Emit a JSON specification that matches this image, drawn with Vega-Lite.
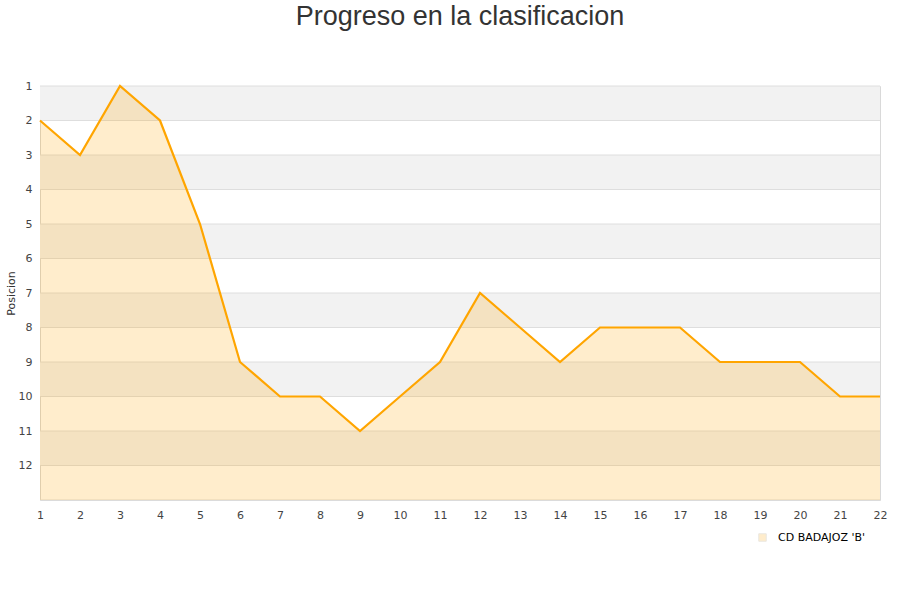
{
  "$schema": "https://vega.github.io/schema/vega-lite/v6.json",
  "width": 840,
  "height": 414,
  "autosize": {"type": "none"},
  "padding": {"left": 40, "top": 86, "right": 20, "bottom": 100},
  "background": "white",
  "title": {
    "text": "Progreso en la clasificacion",
    "font": "Liberation Sans",
    "fontSize": 27,
    "fontWeight": "normal",
    "color": "#333333",
    "anchor": "middle",
    "frame": "group",
    "offset": 49
  },
  "config": {
    "view": {"stroke": "#d9d9d9", "strokeWidth": 1},
    "axis": {
      "labelFont": "DejaVu Sans",
      "labelFontSize": 11,
      "labelColor": "#444444",
      "titleFont": "DejaVu Sans",
      "titleFontSize": 11,
      "titleFontWeight": "normal",
      "titleColor": "#333333",
      "ticks": false,
      "domain": false,
      "grid": false,
      "labelOverlap": false,
      "labelFlush": false
    },
    "axisX": {"labelPadding": 9},
    "axisY": {"labelPadding": 8, "titlePadding": 2},
    "legend": {"symbolStrokeColor": "#9a8a6a", "symbolStrokeWidth": 1, "symbolFillColor": "#ffedcc"}
  },
  "datasets": {
    "bands": [
      {"desde": 1, "hasta": 2},
      {"desde": 3, "hasta": 4},
      {"desde": 5, "hasta": 6},
      {"desde": 7, "hasta": 8},
      {"desde": 9, "hasta": 10},
      {"desde": 11, "hasta": 12}
    ],
    "lineas": [
      {"pos": 1}, {"pos": 2}, {"pos": 3}, {"pos": 4}, {"pos": 5}, {"pos": 6}, {"pos": 7},
      {"pos": 8}, {"pos": 9}, {"pos": 10}, {"pos": 11}, {"pos": 12}, {"pos": 13}
    ],
    "progreso": [
      {"jornada": 1, "posicion": 2, "equipo": "CD BADAJOZ 'B'"},
      {"jornada": 2, "posicion": 3, "equipo": "CD BADAJOZ 'B'"},
      {"jornada": 3, "posicion": 1, "equipo": "CD BADAJOZ 'B'"},
      {"jornada": 4, "posicion": 2, "equipo": "CD BADAJOZ 'B'"},
      {"jornada": 5, "posicion": 5, "equipo": "CD BADAJOZ 'B'"},
      {"jornada": 6, "posicion": 9, "equipo": "CD BADAJOZ 'B'"},
      {"jornada": 7, "posicion": 10, "equipo": "CD BADAJOZ 'B'"},
      {"jornada": 8, "posicion": 10, "equipo": "CD BADAJOZ 'B'"},
      {"jornada": 9, "posicion": 11, "equipo": "CD BADAJOZ 'B'"},
      {"jornada": 10, "posicion": 10, "equipo": "CD BADAJOZ 'B'"},
      {"jornada": 11, "posicion": 9, "equipo": "CD BADAJOZ 'B'"},
      {"jornada": 12, "posicion": 7, "equipo": "CD BADAJOZ 'B'"},
      {"jornada": 13, "posicion": 8, "equipo": "CD BADAJOZ 'B'"},
      {"jornada": 14, "posicion": 9, "equipo": "CD BADAJOZ 'B'"},
      {"jornada": 15, "posicion": 8, "equipo": "CD BADAJOZ 'B'"},
      {"jornada": 16, "posicion": 8, "equipo": "CD BADAJOZ 'B'"},
      {"jornada": 17, "posicion": 8, "equipo": "CD BADAJOZ 'B'"},
      {"jornada": 18, "posicion": 9, "equipo": "CD BADAJOZ 'B'"},
      {"jornada": 19, "posicion": 9, "equipo": "CD BADAJOZ 'B'"},
      {"jornada": 20, "posicion": 9, "equipo": "CD BADAJOZ 'B'"},
      {"jornada": 21, "posicion": 10, "equipo": "CD BADAJOZ 'B'"},
      {"jornada": 22, "posicion": 10, "equipo": "CD BADAJOZ 'B'"}
    ]
  },
  "layer": [
    {
      "data": {"name": "bands"},
      "mark": {"type": "rect", "color": "#f2f2f2"},
      "encoding": {
        "y": {
          "field": "desde",
          "type": "quantitative",
          "scale": {"domain": [1, 13], "reverse": true, "nice": false, "zero": false},
          "axis": {"title": "Posicion", "values": [1, 2, 3, 4, 5, 6, 7, 8, 9, 10, 11, 12]}
        },
        "y2": {"field": "hasta"}
      }
    },
    {
      "data": {"name": "lineas"},
      "mark": {"type": "rule", "color": "#dedede", "strokeWidth": 1},
      "encoding": {
        "y": {
          "field": "pos",
          "type": "quantitative",
          "axis": {"title": "Posicion", "values": [1, 2, 3, 4, 5, 6, 7, 8, 9, 10, 11, 12]}
        }
      }
    },
    {
      "data": {"name": "progreso"},
      "mark": {"type": "area", "opacity": 0.2, "interpolate": "linear"},
      "encoding": {
        "x": {
          "field": "jornada",
          "type": "quantitative",
          "scale": {"domain": [1, 22], "nice": false, "zero": false},
          "axis": {
            "title": null,
            "values": [1, 2, 3, 4, 5, 6, 7, 8, 9, 10, 11, 12, 13, 14, 15, 16, 17, 18, 19, 20, 21, 22],
            "format": "d"
          }
        },
        "y": {
          "field": "posicion",
          "type": "quantitative",
          "axis": {"title": "Posicion", "values": [1, 2, 3, 4, 5, 6, 7, 8, 9, 10, 11, 12]}
        },
        "y2": {"datum": 13},
        "color": {
          "field": "equipo",
          "type": "nominal",
          "scale": {"range": ["#ffa500"]},
          "legend": {
            "title": null,
            "orient": "none",
            "legendX": 717,
            "legendY": 446,
            "symbolType": "square",
            "symbolSize": 56,
            "labelFont": "DejaVu Sans",
            "labelFontSize": 11,
            "labelColor": "#000000",
            "labelOffset": 10,
            "encode": {
              "symbols": {
                "enter": {
                  "stroke": {"value": "#9a8a6a"},
                  "strokeWidth": {"value": 1}
                },
                "update": {
                  "fill": {"value": "#ffedcc"},
                  "stroke": {"value": "#9a8a6a"},
                  "strokeWidth": {"value": 1},
                  "opacity": {"value": 1},
                  "fillOpacity": {"value": 1},
                  "strokeOpacity": {"value": 1}
                }
              }
            }
          }
        }
      }
    },
    {
      "data": {"name": "progreso"},
      "mark": {"type": "line", "color": "#ffa500", "strokeWidth": 2.2, "interpolate": "linear"},
      "encoding": {
        "x": {
          "field": "jornada",
          "type": "quantitative",
          "axis": {
            "title": null,
            "values": [1, 2, 3, 4, 5, 6, 7, 8, 9, 10, 11, 12, 13, 14, 15, 16, 17, 18, 19, 20, 21, 22],
            "format": "d"
          }
        },
        "y": {
          "field": "posicion",
          "type": "quantitative",
          "axis": {"title": "Posicion", "values": [1, 2, 3, 4, 5, 6, 7, 8, 9, 10, 11, 12]}
        }
      }
    }
  ]
}
